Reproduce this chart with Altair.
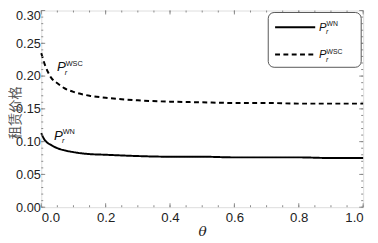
import altair as alt
import pandas as pd

theta = [0.0, 0.01, 0.02, 0.03, 0.05, 0.07, 0.1, 0.15, 0.2, 0.3, 0.4, 0.5, 0.6, 0.7, 0.8, 0.9, 1.0]
p_wsc = [0.235, 0.219, 0.207, 0.198, 0.189, 0.182, 0.176, 0.170, 0.167, 0.163, 0.161, 0.160, 0.159, 0.159, 0.158, 0.158, 0.158]
p_wn = [0.113, 0.103, 0.098, 0.095, 0.090, 0.087, 0.084, 0.081, 0.080, 0.078, 0.077, 0.077, 0.076, 0.076, 0.076, 0.075, 0.075]
series_names = ["WN", "WSC"]

x_major = [0.0, 0.2, 0.4, 0.6, 0.8, 1.0]
x_minor = [i * 0.05 for i in range(21)]
y_major = [0.0, 0.05, 0.10, 0.15, 0.20, 0.25, 0.30]
y_minor = [i * 0.01 for i in range(31)]

PAD_L = 34
W, H = 371 - 8 - PAD_L, 201
GREY = "#888888"

rows = []
for t, a, b in zip(theta, p_wn, p_wsc):
    rows.append({"theta": t, "value": a, "series": series_names[0]})
    rows.append({"theta": t, "value": b, "series": series_names[1]})
df = pd.DataFrame(rows)

xs = alt.Scale(domain=[0, 1], nice=False)
ys = alt.Scale(domain=[0, 0.30], nice=False)

x_axis = alt.Axis(values=x_major, format=".1f", ticks=False, domain=False, grid=False,
                  labelFontSize=13.5, labelFont="Liberation Sans", labelColor="#222",
                  labelPadding=4, labelOverlap=False,
                  title="θ", titleFont="DejaVu Serif", titleFontStyle="italic",
                  titleFontWeight="normal", titleFontSize=14, titleColor="#222",
                  titleY=25, titleBaseline="middle")
y_axis = alt.Axis(values=y_major, format=".2f", ticks=False, domain=False, grid=False,
                  labelFontSize=13, labelFont="Liberation Sans", labelColor="#222",
                  labelPadding=1, labelOverlap=False,
                  labelOffset={"condition": {"test": "datum.value >= 0.299", "value": 5}, "value": 0},
                  title="租赁价格", titleFont="Noto Sans CJK SC",
                  titleFontWeight="normal", titleFontSize=13.5, titleColor="#555",
                  titleAngle=-90, titleX=-(PAD_L - 8), titleY=104, titleBaseline="middle",
                  titleAlign="center")

lines = alt.Chart(df).mark_line(color="black", strokeWidth=2, interpolate="monotone").encode(
    x=alt.X("theta:Q", scale=xs, axis=x_axis),
    y=alt.Y("value:Q", scale=ys, axis=y_axis),
    strokeDash=alt.StrokeDash("series:N", scale=alt.Scale(domain=series_names, range=[[1, 0], [5, 3.5]]),
                              legend=None),
    detail="series:N",
)

def xticks(vals, length, top):
    d = pd.DataFrame({"theta": vals})
    if top:
        y1, y2 = alt.value(0), alt.value(length)
    else:
        y1, y2 = alt.value(H), alt.value(H - length)
    return alt.Chart(d).mark_rule(color=GREY, strokeWidth=1).encode(
        x=alt.X("theta:Q", scale=xs, axis=x_axis), y=y1, y2=y2)

def yticks(vals, length, right):
    d = pd.DataFrame({"value": vals})
    if right:
        x1, x2 = alt.value(W), alt.value(W - length)
    else:
        x1, x2 = alt.value(0), alt.value(length)
    return alt.Chart(d).mark_rule(color=GREY, strokeWidth=1).encode(
        y=alt.Y("value:Q", scale=ys, axis=y_axis), x=x1, x2=x2)

tick_layers = [
    xticks(x_minor, 2, False), xticks(x_major, 4, False),
    xticks(x_minor, 2, True), xticks(x_major, 4, True),
    yticks(y_minor, 2, False), yticks(y_major, 4, False),
    yticks(y_minor, 2, True), yticks(y_major, 4, True),
]

one = alt.Data(values=[{"k": 1}])

ox = 8 + PAD_L

legend_box = alt.Chart(one).mark_rect(fill="white", stroke="#555", strokeWidth=1, cornerRadius=6).encode(
    x=alt.value(274 - ox), x2=alt.value(369 - ox), y=alt.value(2), y2=alt.value(58))
leg_solid = alt.Chart(one).mark_rule(color="black", strokeWidth=2).encode(
    x=alt.value(281 - ox), x2=alt.value(322 - ox), y=alt.value(17))
leg_dash = alt.Chart(one).mark_rule(color="black", strokeWidth=2, strokeDash=[5, 3.5]).encode(
    x=alt.value(281 - ox), x2=alt.value(322 - ox), y=alt.value(45))

def label(x, y, sup, size_p, size_s):
    p = alt.Chart(one).mark_text(text="P", font="Liberation Sans", fontStyle="italic", fontSize=size_p,
                                 align="left", baseline="alphabetic", color="#111").encode(
        x=alt.value(x), y=alt.value(y))
    s = alt.Chart(one).mark_text(text=sup, font="Liberation Sans", fontSize=size_s,
                                 align="left", baseline="alphabetic", color="#111").encode(
        x=alt.value(x + size_p * 0.66), y=alt.value(y - size_p * 0.42))
    r = alt.Chart(one).mark_text(text="r", font="Liberation Sans", fontStyle="italic", fontSize=size_s,
                                 align="left", baseline="alphabetic", color="#111").encode(
        x=alt.value(x + size_p * 0.6), y=alt.value(y + size_p * 0.27))
    return [p, s, r]

annots = (label(58 - ox, 62, "WSC", 13.5, 7.5) + label(55 - ox, 132, "WN", 13.5, 7.5)
          + label(326 - ox, 21, "WN", 11.5, 7) + label(326 - ox, 49, "WSC", 11.5, 7))

chart = alt.layer(lines, *tick_layers, legend_box, leg_solid, leg_dash, *annots).properties(
    width=W, height=H,
    padding={"left": PAD_L, "top": 0, "right": 7, "bottom": 34},
    autosize=alt.AutoSizeParams(type="none"),
).configure_view(stroke=GREY, strokeWidth=1).configure(background="white")

chart.save("out.html", embed_options={"renderer": "svg", "actions": False})
